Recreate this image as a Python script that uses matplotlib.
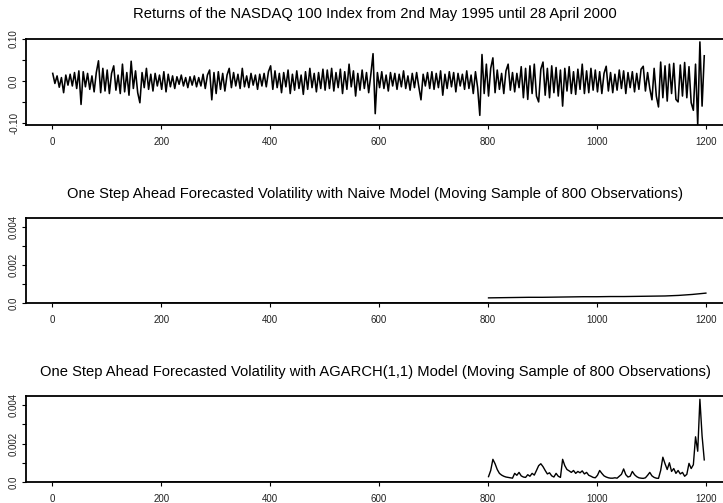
#library yang dibutuhkan
import numpy as np
import matplotlib
matplotlib.use("Agg")
import matplotlib.pyplot as plt

plt.rcParams['font.family'] = ['Liberation Sans', 'DejaVu Sans']

#returns NASDAQ 100 (tiap 4 hari mulai hari ke-1)
returns = [
    0.018, -0.006, 0.012, -0.015, 0.008, -0.028, 0.014, -0.010, 0.016, -0.012, 0.020, -0.018, 0.024, -0.056, 0.022, -0.014, 0.018, -0.020, 0.012, -0.026, 0.020, 0.048, -0.028, 0.030, -0.024,
    0.026, -0.030, 0.018, 0.036, -0.022, 0.014, -0.030, 0.040, -0.026, 0.020, -0.034, 0.047, -0.018, 0.024, -0.028, -0.052, 0.020, -0.016, 0.030, -0.020, 0.016, -0.024, 0.018, -0.012, 0.014,
    -0.020, 0.022, -0.026, 0.016, -0.014, 0.012, -0.018, 0.010, -0.008, 0.014, -0.012, 0.008, -0.016, 0.010, -0.010, 0.012, -0.014, 0.008, -0.012, 0.016, -0.018, 0.014, 0.026, -0.045, 0.020,
    -0.030, 0.022, -0.020, 0.018, -0.024, 0.014, 0.030, -0.016, 0.020, -0.012, 0.016, -0.018, 0.030, -0.014, 0.012, -0.016, 0.018, -0.010, 0.014, -0.020, 0.016, -0.012, 0.018, -0.014, 0.022,
    0.036, -0.020, 0.024, -0.016, 0.018, -0.028, 0.020, -0.014, 0.026, -0.030, 0.016, -0.022, 0.024, -0.018, 0.014, -0.032, 0.022, -0.020, 0.030, -0.016, 0.018, -0.026, 0.020, -0.018, 0.028,
    -0.022, 0.026, -0.018, 0.030, -0.024, 0.020, -0.016, 0.028, -0.030, 0.022, -0.020, 0.040, -0.014, 0.024, -0.036, 0.018, -0.022, 0.026, -0.018, 0.020, -0.028, 0.016, 0.065, -0.078, 0.020,
    -0.016, 0.022, -0.018, 0.014, -0.024, 0.020, -0.012, 0.018, -0.020, 0.016, -0.014, 0.024, -0.018, 0.012, -0.022, 0.018, -0.016, 0.020, -0.014, -0.045, 0.016, -0.012, 0.020, -0.018, 0.022,
    -0.020, 0.018, -0.016, 0.024, -0.034, 0.016, -0.018, 0.022, -0.014, 0.020, -0.026, 0.018, -0.012, 0.016, -0.020, 0.024, -0.018, 0.014, -0.030, 0.022, -0.016, -0.082, 0.063, -0.030, 0.040,
    -0.036, 0.030, 0.055, -0.028, 0.026, -0.020, 0.018, -0.030, 0.024, 0.040, -0.022, 0.020, -0.026, 0.018, -0.016, 0.034, -0.040, 0.030, -0.044, 0.036, -0.030, 0.040, -0.036, -0.050, 0.028,
    0.045, -0.034, 0.030, -0.040, 0.036, -0.028, 0.032, -0.036, 0.026, -0.060, 0.030, -0.024, 0.034, -0.030, 0.022, -0.032, 0.028, -0.020, 0.040, -0.030, 0.024, -0.028, 0.030, -0.022, 0.026,
    -0.026, 0.022, -0.030, 0.018, 0.035, -0.024, 0.020, -0.028, 0.016, -0.022, 0.026, -0.018, 0.024, -0.030, 0.020, -0.016, 0.022, -0.026, 0.018, -0.020, 0.028, 0.035, -0.024, 0.020, -0.018,
    -0.045, 0.030, -0.036, -0.062, 0.045, -0.040, 0.036, -0.048, 0.040, -0.030, 0.042, -0.044, -0.050, 0.038, -0.036, 0.044, -0.040, 0.034, -0.052, -0.070, 0.040, -0.104, 0.093, -0.060, 0.060,
]
hari_returns = 1 + 4 * np.arange(len(returns))

#volatilitas model naive (mulai hari ke-801)
hari_naive = [801, 825, 850, 875, 900, 925, 950, 975, 1000, 1025, 1050, 1075, 1100, 1125, 1150, 1175, 1200]
vol_naive = [0.00027, 0.00028, 0.00029, 0.00030, 0.00030, 0.00031, 0.00032, 0.00033, 0.00033,
             0.00034, 0.00034, 0.00035, 0.00036, 0.00037, 0.00040, 0.00045, 0.00052]

#volatilitas model AGARCH(1,1) (tiap 4 hari mulai hari ke-801)
vol_agarch = [
    0.00028, 0.00060, 0.00118, 0.00095, 0.00065, 0.00045, 0.00036, 0.00030, 0.00026, 0.00024,
    0.00022, 0.00020, 0.00045, 0.00035, 0.00050, 0.00032, 0.00026, 0.00024, 0.00038, 0.00030,
    0.00045, 0.00036, 0.00060, 0.00085, 0.00095, 0.00080, 0.00060, 0.00042, 0.00048, 0.00032,
    0.00026, 0.00045, 0.00030, 0.00024, 0.00118, 0.00085, 0.00065, 0.00058, 0.00050, 0.00060,
    0.00045, 0.00055, 0.00048, 0.00058, 0.00042, 0.00050, 0.00035, 0.00030, 0.00024, 0.00022,
    0.00035, 0.00060, 0.00045, 0.00032, 0.00026, 0.00022, 0.00020, 0.00020, 0.00022, 0.00020,
    0.00030, 0.00040, 0.00068, 0.00038, 0.00026, 0.00030, 0.00055, 0.00038, 0.00028, 0.00022,
    0.00020, 0.00019, 0.00022, 0.00035, 0.00050, 0.00032, 0.00024, 0.00020, 0.00019, 0.00060,
    0.00129, 0.00095, 0.00065, 0.00100, 0.00055, 0.00070, 0.00045, 0.00060, 0.00042, 0.00050,
    0.00030, 0.00040, 0.00097, 0.00070, 0.00090, 0.00235, 0.00160, 0.00430, 0.00240, 0.00115,
]
hari_agarch = 801 + 4 * np.arange(len(vol_agarch))

#sebelum sampel bergerak: nilai nol
hari_awal = [1, 800]
nol_awal = [0, 0]

judul = ["Returns of the NASDAQ 100 Index from 2nd May 1995 until 28 April 2000",
         "One Step Ahead Forecasted Volatility with Naive Model (Moving Sample of 800 Observations)",
         "One Step Ahead Forecasted Volatility with AGARCH(1,1) Model (Moving Sample of 800 Observations)"]
xticks = [0, 200, 400, 600, 800, 1000, 1200]

fig = plt.figure(figsize=(7.23, 5.03), dpi=100)

def atur_axis(ax, yt, ylab, ylim):
    ax.set_xlim(-48, 1248)
    ax.set_ylim(*ylim)
    ax.set_xticks(xticks)
    ax.set_xticklabels([str(t) for t in xticks])
    ax.set_yticks(yt)
    ax.set_yticklabels(ylab, rotation=90, va='center')
    ax.tick_params(axis='x', length=3, width=0.8, pad=5.5, labelsize=7, labelcolor='#222222')
    ax.tick_params(axis='y', length=3, width=0.8, pad=2, labelsize=7, labelcolor='#222222')
    for s in ax.spines.values():
        s.set_linewidth(1.3)

#panel 1
ax1 = fig.add_axes([0.036, 0.7515, 0.9765, 0.171])
ax1.plot(hari_returns, returns, color='black', lw=1.15)
atur_axis(ax1, [-0.10, -0.05, 0.0, 0.05, 0.10], ['-0.10', '', '0.0', '', '0.10'], (-0.105, 0.10))

#panel 2
ax2 = fig.add_axes([0.036, 0.3976, 0.9765, 0.169])
ax2.plot(hari_awal, nol_awal, color='black', lw=1.2)
ax2.plot(hari_naive, vol_naive, color='black', lw=1.0)
atur_axis(ax2, [0, 0.001, 0.002, 0.003, 0.004], ['0.0', '', '0.002', '', '0.004'], (0, 0.00447))

#panel 3
ax3 = fig.add_axes([0.036, 0.0417, 0.9765, 0.171])
ax3.plot(hari_awal, nol_awal, color='black', lw=1.2)
ax3.plot(hari_agarch, vol_agarch, color='black', lw=1.0)
atur_axis(ax3, [0, 0.001, 0.002, 0.003, 0.004], ['0.0', '', '0.002', '', '0.004'], (0, 0.00447))

#judul tiap panel
xt = 375 / 723
fig.text(xt, 1 - 14 / 503, judul[0], ha='center', va='center', fontsize=10.6)
fig.text(xt, 1 - 194 / 503, judul[1], ha='center', va='center', fontsize=10.6)
fig.text(xt, 1 - 372 / 503, judul[2], ha='center', va='center', fontsize=10.6)

plt.savefig("out.png", dpi=100)
